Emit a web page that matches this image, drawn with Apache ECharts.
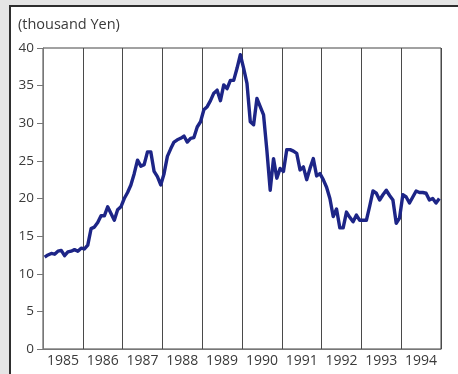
<!DOCTYPE html>
<html>
<head>
<meta charset="utf-8">
<script src="https://cdn.jsdelivr.net/npm/echarts@6/dist/echarts.min.js"></script>
<style>
  html, body { margin: 0; padding: 0; background: #e5e5e5; }
  #chart { width: 458px; height: 374px; }
</style>
</head>
<body>
<div id="chart"></div>
<script>
// Year labels along the bottom axis
const years = ['1985', '1986', '1987', '1988', '1989', '1990', '1991', '1992', '1993', '1994'];

// Monthly price, thousand yen (January .. December)
const price1985 = [12.2, 12.5, 12.7, 12.6, 13.0, 13.1, 12.4, 12.9, 13.0, 13.2, 13.0, 13.4];
const price1986 = [13.3, 13.8, 16.0, 16.2, 16.8, 17.7, 17.7, 18.9, 18.0, 17.1, 18.5, 18.9];
const price1987 = [20.0, 20.8, 21.8, 23.3, 25.1, 24.3, 24.5, 26.2, 26.2, 23.6, 22.9, 21.8];
const price1988 = [23.3, 25.6, 26.6, 27.5, 27.8, 28.0, 28.3, 27.5, 28.0, 28.1, 29.5, 30.2];
const price1989 = [31.8, 32.2, 33.0, 34.0, 34.4, 33.0, 35.1, 34.6, 35.7, 35.7, 37.3, 39.1];
const price1990 = [37.3, 35.3, 30.2, 29.8, 33.3, 32.2, 31.1, 26.4, 21.1, 25.3, 22.7, 24.0];
const price1991 = [23.6, 26.5, 26.5, 26.3, 26.0, 23.8, 24.2, 22.5, 24.0, 25.3, 23.0, 23.3];
const price1992 = [22.5, 21.5, 20.0, 17.6, 18.6, 16.1, 16.1, 18.2, 17.5, 16.9, 17.8, 17.1];
const price1993 = [17.1, 17.1, 19.0, 21.0, 20.7, 19.8, 20.5, 21.1, 20.4, 19.8, 16.7, 17.4];
const price1994 = [20.5, 20.2, 19.4, 20.2, 21.0, 20.8, 20.8, 20.7, 19.8, 20.0, 19.4, 20.0];

const priceByYear = [price1985, price1986, price1987, price1988, price1989,
                     price1990, price1991, price1992, price1993, price1994];

// Each monthly value sits at the middle of its month on a decimal-year scale
const seriesData = [];
priceByYear.forEach(function (months, yi) {
  const y0 = Number(years[yi]);
  months.forEach(function (v, m) {
    seriesData.push([y0 + (m + 0.5) / 12, v]);
  });
});

const labelFont = '"Open Sans", "Noto Sans", sans-serif';
const textColor = '#3a3a3a';

const chart = echarts.init(document.getElementById('chart'), null, { renderer: 'canvas' });
chart.setOption({
  backgroundColor: '#e5e5e5',
  animation: false,
  graphic: [{
    type: 'rect',
    z: -10,
    shape: { x: 10, y: 6, width: 470, height: 390 },
    style: { fill: '#ffffff', stroke: '#2e2e2e', lineWidth: 2 }
  }],
  title: {
    text: '(thousand Yen)',
    left: 18,
    top: 17,
    padding: 0,
    textStyle: { fontFamily: labelFont, fontSize: 14.5, fontWeight: 'normal', color: textColor }
  },
  grid: {
    left: 43, right: 17, top: 48, bottom: 25,
    show: true, borderColor: '#444', borderWidth: 1, backgroundColor: 'transparent'
  },
  xAxis: [{
    type: 'value',
    min: 1985, max: 1995, interval: 1,
    axisLine: { show: true, lineStyle: { color: '#777', width: 1 } },
    axisTick: { show: false },
    axisLabel: { show: false },
    splitLine: { show: true, lineStyle: { color: '#4a4a4a', width: 1 } }
  }, {
    type: 'category',
    data: years,
    position: 'bottom',
    boundaryGap: true,
    axisLine: { show: false },
    axisTick: { show: false },
    axisLabel: { interval: 0, margin: 5, fontFamily: labelFont, fontSize: 14, color: textColor }
  }],
  yAxis: {
    type: 'value',
    min: 0, max: 40, interval: 5,
    axisLine: { show: true, lineStyle: { color: '#777', width: 1 } },
    axisTick: { show: true, length: 6, lineStyle: { color: '#777' } },
    axisLabel: { margin: 9, fontFamily: labelFont, fontSize: 13.5, color: textColor },
    splitLine: { show: false }
  },
  series: [{
    type: 'line',
    xAxisIndex: 0,
    data: seriesData,
    showSymbol: false,
    symbol: 'none',
    lineStyle: { color: '#1d2587', width: 3.4, join: 'round' },
    z: 5
  }]
});
</script>
</body>
</html>
